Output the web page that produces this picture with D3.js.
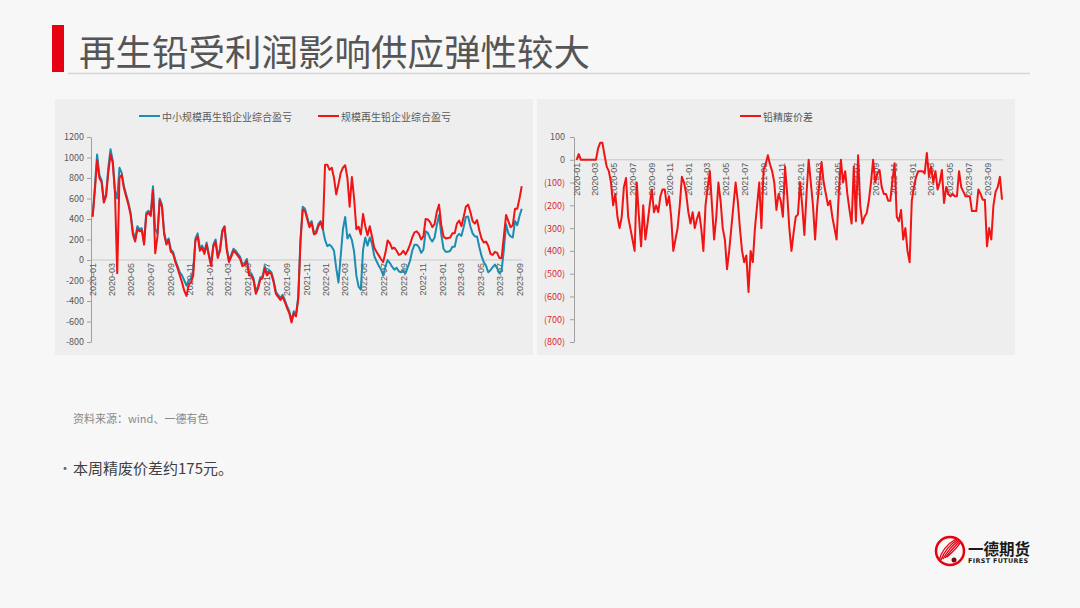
<!DOCTYPE html>
<html><head><meta charset="utf-8">
<script src="https://cdn.jsdelivr.net/npm/d3@7"></script>
<style>
html,body{margin:0;padding:0;background:#f7f7f7;}
svg{display:block;font-family:"Noto Sans CJK SC","Noto Sans",sans-serif;}
</style></head><body>
<svg id="c" width="1080" height="608"></svg>
<script>
// ---------- DATA ----------
const weekStart = "2020-01-03";
const monthLabels = ["2020-01","2020-03","2020-05","2020-07","2020-09","2020-11",
  "2021-01","2021-03","2021-05","2021-07","2021-09","2021-11",
  "2022-01","2022-03","2022-05","2022-07","2022-09","2022-11",
  "2023-01","2023-03","2023-05","2023-07","2023-09"];
const leftTicks = [1200,1000,800,600,400,200,0,-200,-400,-600,-800];
const rightTicks = [100,0,-100,-200,-300,-400,-500,-600,-700,-800];
const seriesNamesLeft = ["中小规模再生铅企业综合盈亏","规模再生铅企业综合盈亏"];
const seriesNameRight = "铅精废价差";

// 中小规模再生铅企业综合盈亏 (weekly)
const profitSmall = [
  430,720,1030,830,780,580,640,900,1080,970,
  680,600,900,850,720,640,560,460,280,200,
  330,300,310,170,460,480,450,720,300,260,
  600,540,270,170,210,100,80,0,-60,-120,
  -150,-200,-250,-200,-180,-100,210,260,110,140,
  80,170,60,-40,150,200,40,110,290,330,
  120,0,50,110,90,60,30,-40,-30,10,
  -130,-130,-180,-300,-260,-170,-160,-60,-130,-100,
  -120,-200,-310,-340,-370,-340,-390,-450,-500,-590,
  -500,-530,-360,200,520,500,420,340,380,270,
  280,350,380,300,195,135,150,130,90,-80,
  -220,40,300,420,210,250,195,80,-150,-260,
  -290,100,220,140,220,160,40,-10,-55,-90,
  -150,-65,0,-30,-65,-95,-75,-110,-120,-100,
  -130,-70,-10,90,150,150,125,70,100,280,
  265,210,180,220,340,440,250,110,80,80,
  90,130,130,230,255,235,320,420,425,330,
  260,230,230,130,40,-20,-55,-120,-100,-70,
  -45,-80,-130,-100,100,350,260,230,220,380,
  340,430,500];

// 规模再生铅企业综合盈亏 (weekly)
const profitLarge = [
  420,680,975,800,760,560,620,850,1030,950,
  650,-130,800,830,700,620,540,440,250,180,
  300,280,290,150,440,460,430,680,65,230,
  580,520,250,150,195,80,60,-20,-80,-150,
  -220,-300,-350,-240,-220,-150,190,230,90,120,
  60,150,40,-60,130,180,20,90,270,325,
  100,-20,30,90,70,40,10,-60,-50,-10,
  -150,-150,-200,-330,-280,-190,-180,-80,-150,-120,
  -140,-220,-330,-360,-390,-360,-410,-470,-520,-610,
  -520,-550,-380,180,490,480,400,320,360,250,
  260,330,370,300,930,930,880,900,800,640,
  740,850,900,925,800,520,810,600,300,325,
  250,450,330,240,330,230,120,80,45,10,
  -20,70,190,165,110,120,90,50,60,90,
  55,95,150,220,270,280,255,200,230,400,
  395,370,320,350,470,540,340,230,210,215,
  220,260,260,355,385,330,420,520,540,470,
  380,355,390,290,210,170,180,140,60,50,
  80,70,20,20,230,440,380,320,340,500,
  500,600,720];

// 铅精废价差 (weekly)
const spread = [
  0,25,0,0,0,0,0,0,0,0,
  50,75,75,20,-30,-50,-100,-200,-150,-250,
  -300,-250,-120,-80,-250,-300,-350,-400,-100,-250,
  -380,-200,-350,-280,-200,-130,-230,-200,-230,-160,
  -130,-130,-200,-160,-250,-400,-350,-300,-200,-75,
  -100,-150,-230,-280,-230,-300,-260,-230,-300,-400,
  -200,-120,-50,-200,-350,-250,-100,-180,-300,-350,
  -480,-400,-300,-200,-100,-180,-300,-400,-450,-420,
  -580,-400,-450,-300,-200,-100,-300,-45,-20,20,
  -20,-50,-100,-220,-150,-180,-250,-30,-150,-300,
  -400,-320,-250,-240,-100,-200,-330,-150,0,-100,
  -200,-350,-200,-100,-10,-100,-150,-200,-180,-250,
  -300,-350,-150,0,-100,-50,-150,-220,-280,-30,
  -270,20,-200,-280,-250,-235,-180,-100,0,-100,
  -60,-45,-120,-150,-150,-180,-180,-90,-15,-250,
  -270,-220,-350,-300,-400,-450,-180,-120,-75,-50,
  -50,-50,-60,30,-75,-30,-100,-50,-130,-100,
  -45,-190,-120,-150,-160,-150,-160,-160,-50,-120,
  -140,-160,-160,-160,-225,-225,-225,-130,-150,-175,
  -175,-380,-300,-350,-200,-140,-120,-75,-175];

// ---------- DRAW ----------
const svg = d3.select("#c");
const parse = d3.timeParse("%Y-%m-%d");
const pm = d3.timeParse("%Y-%m");
const start = parse(weekStart);
const datesOf = arr => arr.map((_, i) => d3.timeDay.offset(start, 7 * i));
const tickDates = monthLabels.map(pm);
const fmt = d3.timeFormat("%Y-%m");
const RED = "#f01414", TEAL = "#1b8db3", GREY = "#595959";

// page header
svg.append("rect").attr("x", 52).attr("y", 25).attr("width", 12).attr("height", 47).attr("fill", "#e60012");
svg.append("text").attr("x", 79).attr("y", 50).attr("dominant-baseline", "central")
  .attr("font-size", 36.5).attr("fill", "#555").text("再生铅受利润影响供应弹性较大");
svg.append("line").attr("x1", 68).attr("x2", 1030).attr("y1", 73.5).attr("y2", 73.5)
  .attr("stroke", "#d6d6d6").attr("stroke-width", 1.5);

// panels
svg.append("rect").attr("x", 55).attr("y", 99).attr("width", 478).attr("height", 256).attr("fill", "#eeeeee");
svg.append("rect").attr("x", 537).attr("y", 99).attr("width", 478).attr("height", 256).attr("fill", "#eeeeee");

function styleAxis(g) {
  g.select(".domain").attr("stroke", "#a0a0a0");
  g.selectAll(".tick line").attr("stroke", "#a0a0a0");
  g.selectAll("text").attr("font-size", 9).attr("fill", GREY)
    .attr("font-family", "'Noto Sans CJK SC','Noto Sans',sans-serif");
}

// ---- left chart ----
const xL = d3.scaleTime().domain([pm("2020-01"), pm("2023-09")]).range([92, 519.5]);
const yL = d3.scaleLinear().domain([-800, 1200]).range([342, 137]);
const gL = svg.append("g");
gL.append("line").attr("x1", 91).attr("x2", 522).attr("y1", yL(0)).attr("y2", yL(0))
  .attr("stroke", "#c8c8c8").attr("stroke-width", 1);
const axL = gL.append("g").attr("transform", "translate(91,0)")
  .call(d3.axisLeft(yL).tickValues(leftTicks).tickSize(4).tickSizeOuter(0).tickPadding(3)
    .tickFormat(v => String(v)));
styleAxis(axL);
const axLx = gL.append("g").attr("transform", `translate(0,${yL(0)})`)
  .call(d3.axisBottom(xL).tickValues(tickDates).tickFormat(fmt).tickSize(0));
axLx.select(".domain").remove();
axLx.selectAll("text").attr("transform", "rotate(-90)").attr("text-anchor", "end")
  .attr("x", -3).attr("y", 0).attr("dy", "0.35em").attr("font-size", 9).attr("fill", GREY);

const lineL = d3.line().x(d => xL(d[0])).y(d => yL(d[1]));
const dS = datesOf(profitSmall), dLg = datesOf(profitLarge);
gL.append("path").datum(profitSmall.map((v, i) => [dS[i], v])).attr("d", lineL)
  .attr("fill", "none").attr("stroke", TEAL).attr("stroke-width", 2).attr("stroke-linejoin", "round");
gL.append("path").datum(profitLarge.map((v, i) => [dLg[i], v])).attr("d", lineL)
  .attr("fill", "none").attr("stroke", RED).attr("stroke-width", 2).attr("stroke-linejoin", "round");

// left legend
const legL = [[139, TEAL, seriesNamesLeft[0]], [318, RED, seriesNamesLeft[1]]];
legL.forEach(([x, c, t]) => {
  svg.append("line").attr("x1", x).attr("x2", x + 21).attr("y1", 116).attr("y2", 116)
    .attr("stroke", c).attr("stroke-width", 2);
  svg.append("text").attr("x", x + 23).attr("y", 116).attr("dominant-baseline", "central")
    .attr("font-size", 10).attr("fill", GREY).text(t);
});

// ---- right chart ----
const xR = d3.scaleTime().domain([pm("2020-01"), pm("2023-09")]).range([576, 987]);
const yR = d3.scaleLinear().domain([-800, 100]).range([342, 137]);
const gR = svg.append("g");
gR.append("line").attr("x1", 574).attr("x2", 1003).attr("y1", yR(0)).attr("y2", yR(0))
  .attr("stroke", "#c8c8c8").attr("stroke-width", 1);
const axR = gR.append("g").attr("transform", "translate(574,0)")
  .call(d3.axisLeft(yR).tickValues(rightTicks).tickSize(4).tickSizeOuter(0).tickPadding(5)
    .tickFormat(v => v < 0 ? `(${-v})` : `${v}`));
styleAxis(axR);
axR.selectAll(".tick text").attr("fill", d => d < 0 ? "#d9262c" : GREY);
const axRx = gR.append("g").attr("transform", `translate(0,${yR(0)})`)
  .call(d3.axisBottom(xR).tickValues(tickDates).tickFormat(fmt).tickSize(0));
axRx.select(".domain").remove();
axRx.selectAll("text").attr("transform", "rotate(-90)").attr("text-anchor", "end")
  .attr("x", -3).attr("y", 0).attr("dy", "0.35em").attr("font-size", 9).attr("fill", GREY);
const lineR = d3.line().x(d => xR(d[0])).y(d => yR(d[1]));
const dR = datesOf(spread);
gR.append("path").datum(spread.map((v, i) => [dR[i], v])).attr("d", lineR)
  .attr("fill", "none").attr("stroke", RED).attr("stroke-width", 2).attr("stroke-linejoin", "round");

// right legend
svg.append("line").attr("x1", 740).attr("x2", 761).attr("y1", 116).attr("y2", 116)
  .attr("stroke", RED).attr("stroke-width", 2);
svg.append("text").attr("x", 763).attr("y", 116).attr("dominant-baseline", "central")
  .attr("font-size", 10).attr("fill", GREY).text(seriesNameRight);

// source & bullet
svg.append("text").attr("x", 73).attr("y", 418).attr("dominant-baseline", "central")
  .attr("font-size", 11).attr("fill", "#8a8a8a").text("资料来源：wind、一德有色");
svg.append("text").attr("x", 58).attr("y", 467).attr("dominant-baseline", "central")
  .attr("font-size", 14).attr("fill", "#666").text("•");
svg.append("text").attr("x", 73).attr("y", 467).attr("dominant-baseline", "central")
  .attr("font-size", 15).attr("fill", "#404040").text("本周精废价差约175元。");

// logo
const lg = svg.append("g").attr("transform", "translate(950,551)");
lg.append("circle").attr("r", 14).attr("fill", "none").attr("stroke", "#e60012").attr("stroke-width", 2.5);
[-8, -4, 0, 4, 8].forEach((o, i) => {
  lg.append("path").attr("d", `M${-11 + i * 2},${10 - i} Q${o},-4 ${6 + i},${-12 + i}`)
    .attr("fill", "none").attr("stroke", "#e60012").attr("stroke-width", 1.4);
});
lg.append("circle").attr("cx", 4).attr("cy", 9).attr("r", 2.5).attr("fill", "#7a0a0a");
svg.append("text").attr("x", 968).attr("y", 548).attr("dominant-baseline", "central")
  .attr("font-size", 15.5).attr("font-weight", "bold").attr("fill", "#1a1a1a").text("一德期货");
svg.append("text").attr("x", 968).attr("y", 561).attr("dominant-baseline", "central")
  .attr("font-size", 6.4).attr("font-weight", "bold").attr("fill", "#1a1a1a")
  .attr("font-family", "'DejaVu Sans',sans-serif").attr("textLength", 60).text("FIRST FUTURES");
</script>
</body></html>
